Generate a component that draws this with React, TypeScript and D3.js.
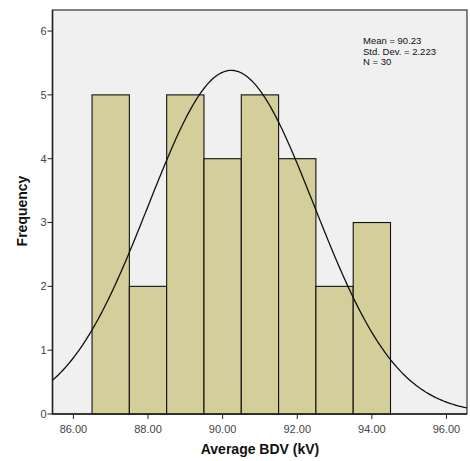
import React from "react";
import * as d3 from "d3";

const binStarts = [86.5, 87.5, 88.5, 89.5, 90.5, 91.5, 92.5, 93.5];
const binWidth = 1;
const frequencies = [5, 2, 5, 4, 5, 4, 2, 3];
const xTicks = [86, 88, 90, 92, 94, 96];
const yTicks = [0, 1, 2, 3, 4, 5, 6];
const statsLines = ["Mean = 90.23", "Std. Dev. = 2.223", "N = 30"];
const mean = 90.23;
const sd = 2.223;
const n = 30;

export default function App() {
  const W = 470, H = 461;
  const left = 52.5, right = 467, top = 10, bottom = 414;
  const x = d3.scaleLinear().domain([85.44, 96.55]).range([left, right]);
  const y = d3.scaleLinear().domain([0, 6.33]).range([bottom, top]);

  const pts: [number, number][] = [];
  const [d0, d1] = x.domain();
  for (let i = 0; i <= 300; i++) {
    const v = d0 + ((d1 - d0) * i) / 300;
    const dens = (n * binWidth) / (sd * Math.sqrt(2 * Math.PI)) * Math.exp(-((v - mean) ** 2) / (2 * sd * sd));
    pts.push([x(v), y(dens)]);
  }
  const line = d3.line();
  const font = "'Liberation Sans', Arial, sans-serif";

  return (
    <svg width={W} height={H} style={{ position: "absolute", left: 0, top: 0, background: "#fff" }}>
      <rect x={left} y={top} width={right - left} height={bottom - top} fill="#f0f0f0" stroke="#333" strokeWidth={1.2} />
      <defs>
        <clipPath id="clip">
          <rect x={left} y={top} width={right - left} height={bottom - top} />
        </clipPath>
      </defs>
      {binStarts.map((b, i) => (
        <rect key={i} x={x(b)} y={y(frequencies[i])} width={x(b + binWidth) - x(b)} height={bottom - y(frequencies[i])}
          fill="#d3ce9a" stroke="#111" strokeWidth={1.1} />
      ))}
      <path d={line(pts) || ""} fill="none" stroke="#111" strokeWidth={1.3} clipPath="url(#clip)" />
      <line x1={left} x2={left} y1={top} y2={bottom} stroke="#222" strokeWidth={1.5} />
      <line x1={left} x2={right} y1={bottom} y2={bottom} stroke="#222" strokeWidth={1.5} />
      {yTicks.map((t) => (
        <g key={t}>
          <line x1={left - 5} x2={left} y1={y(t)} y2={y(t)} stroke="#222" strokeWidth={1} />
          <text x={left - 6} y={y(t)} dy="0.35em" textAnchor="end" fontFamily={font} fontSize={11} fill="#444">{t}</text>
        </g>
      ))}
      {xTicks.map((t) => (
        <g key={t}>
          <line x1={x(t)} x2={x(t)} y1={bottom} y2={bottom + 5} stroke="#222" strokeWidth={1} />
          <text x={x(t)} y={bottom + 19} textAnchor="middle" fontFamily={font} fontSize={11} fill="#444">{t.toFixed(2)}</text>
        </g>
      ))}
      {statsLines.map((s, i) => (
        <text key={i} x={363} y={44 + i * 10.5} fontFamily={font} fontSize={9.5} fill="#111">{s}</text>
      ))}
      <text x={260} y={454} textAnchor="middle" fontFamily={font} fontSize={14} fontWeight="bold" fill="#111">Average BDV (kV)</text>
      <text transform={`translate(27,211) rotate(-90)`} textAnchor="middle" fontFamily={font} fontSize={14} fontWeight="bold" fill="#111">Frequency</text>
    </svg>
  );
}
